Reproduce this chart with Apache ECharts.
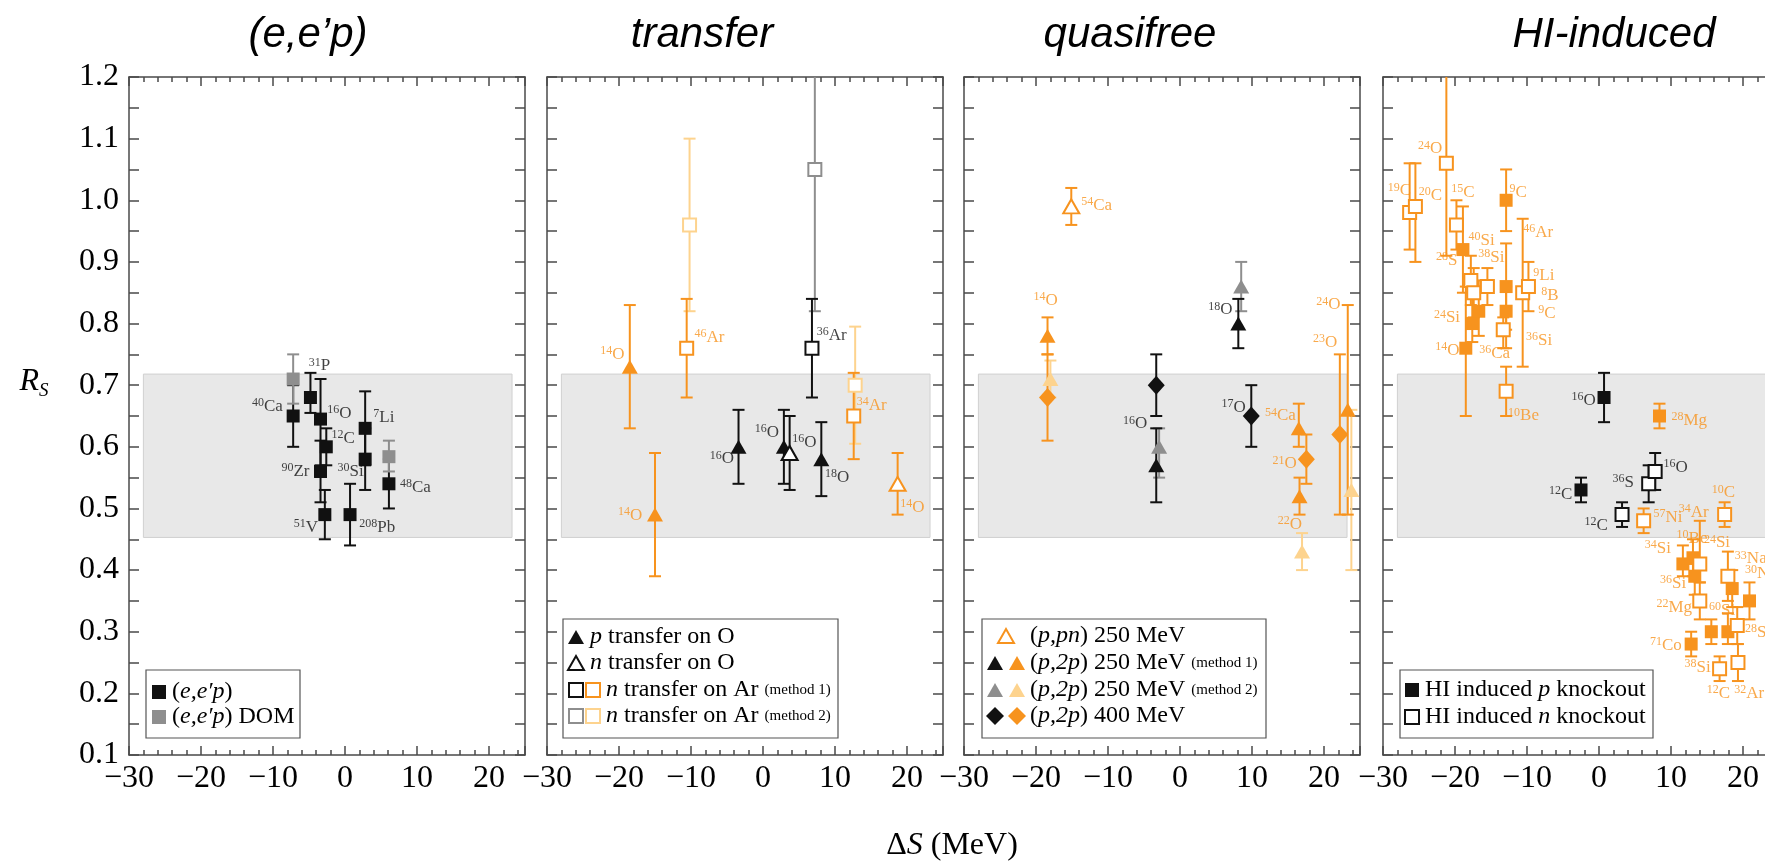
<!DOCTYPE html>
<html>
<head>
<meta charset="utf-8">
<script src="https://cdn.jsdelivr.net/npm/echarts@6.0.0/dist/echarts.min.js"></script>
<style>
html, body { margin: 0; padding: 0; background: #fff; }
#main { width: 1765px; height: 866px; }
</style>
</head>
<body>
<div id="main"></div>
<script>
// every point: [deltaS (MeV), R_S, lower error, upper error]

// (e,e'p)
var eepBlack = [[-7.2, 0.65, 0.60, 0.70], [-4.8, 0.68, 0.655, 0.72], [-3.4, 0.645, 0.57, 0.71],
  [-2.6, 0.60, 0.57, 0.63], [-3.4, 0.56, 0.51, 0.61], [-2.8, 0.49, 0.45, 0.53],
  [0.7, 0.49, 0.44, 0.54], [2.8, 0.63, 0.57, 0.69], [2.8, 0.58, 0.53, 0.63], [6.1, 0.54, 0.50, 0.58]];
var eepDom = [[-7.2, 0.71, 0.67, 0.75], [6.1, 0.584, 0.56, 0.61]];

// transfer
var pTransferBlack = [[-3.4, 0.60, 0.54, 0.66], [2.9, 0.60, 0.54, 0.66], [8.1, 0.58, 0.52, 0.64]];
var pTransferOrange = [[-18.5, 0.73, 0.63, 0.83], [-15.0, 0.49, 0.39, 0.59]];
var nTransferBlack = [[3.7, 0.59, 0.53, 0.65]];
var nTransferOrange = [[18.7, 0.54, 0.49, 0.59]];
var arM1Black = [[6.8, 0.76, 0.68, 0.84]];
var arM1Orange = [[-10.6, 0.76, 0.68, 0.84], [12.6, 0.65, 0.58, 0.72]];
var arM2Gray = [[7.2, 1.05, 0.82, 1.30]];
var arM2Light = [[-10.2, 0.96, 0.82, 1.10], [12.8, 0.70, 0.605, 0.795]];

// quasifree
var ppnOrange = [[-15.1, 0.99, 0.96, 1.02]];
var p2pM1Black = [[-3.3, 0.57, 0.51, 0.63], [8.1, 0.80, 0.76, 0.84]];
var p2pM1Orange = [[-18.4, 0.78, 0.75, 0.81], [16.5, 0.63, 0.60, 0.67], [16.6, 0.52, 0.49, 0.55], [23.3, 0.66, 0.49, 0.83]];
var p2pM2Gray = [[-2.9, 0.60, 0.55, 0.63], [8.5, 0.86, 0.82, 0.90]];
var p2pM2Light = [[-18.0, 0.71, 0.68, 0.74], [16.95, 0.43, 0.40, 0.46], [23.8, 0.53, 0.40, 0.66]];
var p2p400Black = [[-3.3, 0.70, 0.65, 0.75], [9.9, 0.65, 0.60, 0.70]];
var p2p400Orange = [[-18.4, 0.68, 0.61, 0.75], [17.55, 0.58, 0.54, 0.62], [22.2, 0.62, 0.49, 0.75]];

// HI-induced
var hiPBlack = [[-2.5, 0.53, 0.51, 0.55], [0.7, 0.68, 0.64, 0.72]];
var hiNBlack = [[3.2, 0.49, 0.47, 0.51], [6.9, 0.54, 0.51, 0.57], [7.8, 0.56, 0.53, 0.59]];
var hiPOrange = [[-18.9, 0.92, 0.85, 0.99], [-17.6, 0.80, 0.77, 0.85], [-16.7, 0.82, 0.78, 0.87],
  [-18.5, 0.76, 0.65, 0.86], [-12.9, 1.00, 0.95, 1.05], [-12.9, 0.86, 0.79, 0.93], [-12.9, 0.82, 0.76, 0.86],
  [8.4, 0.65, 0.63, 0.67], [11.65, 0.41, 0.39, 0.44], [13.05, 0.42, 0.39, 0.45], [13.3, 0.39, 0.36, 0.41],
  [18.5, 0.37, 0.34, 0.40], [20.9, 0.35, 0.32, 0.38], [15.6, 0.30, 0.28, 0.32], [17.9, 0.30, 0.28, 0.33],
  [12.8, 0.28, 0.26, 0.30]];
var hiNOrange = [[-26.3, 0.98, 0.92, 1.06], [-25.5, 0.99, 0.90, 1.06], [-21.2, 1.06, 0.91, 1.30],
  [-19.8, 0.96, 0.92, 1.00], [-17.8, 0.87, 0.83, 0.91], [-17.4, 0.85, 0.81, 0.89], [-15.5, 0.86, 0.83, 0.89],
  [-13.3, 0.79, 0.76, 0.81], [-10.6, 0.85, 0.73, 0.97], [-9.8, 0.86, 0.82, 0.90], [-12.9, 0.69, 0.65, 0.73],
  [6.2, 0.48, 0.46, 0.50], [17.45, 0.49, 0.47, 0.51], [14.0, 0.41, 0.38, 0.48], [17.9, 0.39, 0.35, 0.43],
  [14.0, 0.35, 0.32, 0.38], [19.2, 0.31, 0.28, 0.34], [16.75, 0.24, 0.22, 0.26], [19.3, 0.25, 0.22, 0.28]];

// nucleus labels: [text, deltaS, R_S] (left edge, middle)
var p1Labels = [['31P', -5.1, 0.732], ['40Ca', -13.0, 0.666], ['16O', -2.55, 0.655], ['7Li', 3.86, 0.649],
  ['12C', -1.95, 0.614], ['90Zr', -8.9, 0.561], ['30Si', -1.1, 0.561], ['48Ca', 7.56, 0.535],
  ['51V', -7.2, 0.47], ['208Pb', 1.9, 0.47]];
var p2LabelsBlack = [['36Ar', 7.38, 0.781], ['16O', -7.48, 0.581], ['16O', -1.2, 0.624], ['16O', 4.0, 0.608], ['18O', 8.54, 0.551]];
var p2LabelsOrange = [['14O', -22.66, 0.751], ['14O', -20.2, 0.489], ['46Ar', -9.57, 0.778], ['34Ar', 12.95, 0.668], ['14O', 18.98, 0.503]];
var p3LabelsBlack = [['18O', 3.86, 0.823], ['16O', -7.98, 0.638], ['17O', 5.71, 0.665]];
var p3LabelsOrange = [['54Ca', -13.8, 0.992], ['14O', -20.4, 0.838], ['24O', 18.85, 0.831], ['23O', 18.4, 0.770],
  ['54Ca', 11.74, 0.651], ['21O', 12.77, 0.573], ['22O', 13.5, 0.475]];
var p4LabelsBlack = [['16O', -3.9, 0.676], ['12C', -7.0, 0.523], ['12C', -2.1, 0.473], ['36S', 1.8, 0.543], ['16O', 8.9, 0.567]];
var p4LabelsOrange = [['19C', -29.4, 1.016], ['20C', -25.1, 1.008], ['24O', -25.2, 1.084], ['15C', -20.6, 1.013],
  ['40Si', -18.2, 0.935], ['28S', -22.7, 0.903], ['38Si', -16.85, 0.908], ['9C', -12.5, 1.013], ['46Ar', -10.6, 0.948],
  ['9Li', -9.2, 0.878], ['8B', -8.1, 0.846], ['9C', -8.5, 0.817], ['36Si', -10.2, 0.773], ['24Si', -23.0, 0.810],
  ['14O', -22.8, 0.757], ['36Ca', -16.7, 0.752], ['10Be', -12.7, 0.651], ['28Mg', 10.0, 0.643], ['57Ni', 7.5, 0.486],
  ['10C', 15.6, 0.526], ['34Ar', 11.0, 0.494], ['10Be', 10.7, 0.452], ['24Si', 14.5, 0.445], ['34Si', 6.3, 0.436],
  ['36Si', 8.4, 0.379], ['33Na', 18.8, 0.419], ['30Na', 20.2, 0.395], ['22Mg', 7.9, 0.340], ['60Si', 15.2, 0.335],
  ['28S', 20.2, 0.299], ['71Co', 7.0, 0.278], ['38Si', 11.8, 0.243], ['12C', 14.9, 0.201], ['32Ar', 18.7, 0.201]];

var panelTitles = ['(e,e\u2019p)', 'transfer', 'quasifree', 'HI-induced'];
var xMin = -30, xMax = 25, yMin = 0.1, yMax = 1.2;
var bandX = [-28, 23.2], bandY = [0.453, 0.718];

// ---- styling / layout
var SERIF = '"Liberation Serif", "DejaVu Serif", serif';
var SANS = '"Liberation Sans", Arial, sans-serif';
var BLACK = '#111111', ORANGE = '#f7931e', LIGHT = '#fdd38e', GRAY = '#8e8e8e';
var gridLeft = [129, 547, 964, 1383];
var titleX = [308, 702, 1130, 1614];
var frame = { color: '#4a4a4a', width: 1.5 };

var sets = [
  [0, eepBlack, 'rect', BLACK, true], [0, eepDom, 'rect', GRAY, true],
  [1, pTransferBlack, 'triangle', BLACK, true], [1, pTransferOrange, 'triangle', ORANGE, true],
  [1, nTransferBlack, 'triangle', BLACK, false], [1, nTransferOrange, 'triangle', ORANGE, false],
  [1, arM2Gray, 'rect', GRAY, false], [1, arM2Light, 'rect', LIGHT, false],
  [1, arM1Black, 'rect', BLACK, false], [1, arM1Orange, 'rect', ORANGE, false],
  [2, ppnOrange, 'triangle', ORANGE, false],
  [2, p2pM2Gray, 'triangle', GRAY, true], [2, p2pM2Light, 'triangle', LIGHT, true],
  [2, p2pM1Black, 'triangle', BLACK, true], [2, p2pM1Orange, 'triangle', ORANGE, true],
  [2, p2p400Black, 'diamond', BLACK, true], [2, p2p400Orange, 'diamond', ORANGE, true],
  [3, hiPOrange, 'rect', ORANGE, true], [3, hiNOrange, 'rect', ORANGE, false],
  [3, hiPBlack, 'rect', BLACK, true], [3, hiNBlack, 'rect', BLACK, false]
];
var symbolSizes = { rect: 13, triangle: [16, 14], diamond: [17, 19] };

function fmtX(v) {
  if (v > 24) return '';
  return v < 0 ? '\u2212' + (-v) : String(v);
}

var grids = [], xAxes = [], yAxes = [], series = [];
gridLeft.forEach(function (left, i) {
  grids.push({ left: left, top: 77, width: 396, height: 678, outerBoundsMode: 'none', containLabel: false });
  ['bottom', 'top'].forEach(function (pos) {
    xAxes.push({ gridIndex: i, type: 'value', min: xMin, max: xMax, interval: 10, position: pos,
      axisLine: { show: true, onZero: false, lineStyle: frame },
      axisTick: { inside: true, length: 9, lineStyle: frame },
      axisLabel: { show: pos === 'bottom', fontFamily: SERIF, fontSize: 32, color: '#000', margin: 8, formatter: fmtX },
      splitLine: { show: false } });
    xAxes.push({ gridIndex: i, type: 'value', min: xMin, max: xMax, interval: 2, position: pos,
      axisLine: { show: false, onZero: false },
      axisTick: { inside: true, length: 5, lineStyle: frame },
      axisLabel: { show: false }, splitLine: { show: false } });
  });
  ['left', 'right'].forEach(function (pos) {
    yAxes.push({ gridIndex: i, type: 'value', min: yMin, max: yMax, interval: 0.1, position: pos,
      axisLine: { show: true, onZero: false, lineStyle: frame },
      axisTick: { inside: true, length: 10, lineStyle: frame },
      minorTick: { show: true, splitNumber: 2, length: 10, lineStyle: frame },
      axisLabel: { show: i === 0 && pos === 'left', fontFamily: SERIF, fontSize: 32, color: '#000', margin: 10,
        formatter: function (v) { return v.toFixed(1); } },
      splitLine: { show: false } });
  });
  // grey band
  series.push({ type: 'custom', xAxisIndex: i * 4, yAxisIndex: i * 2, z: 1, silent: true,
    data: [[bandX[0], bandY[0], bandX[1], bandY[1]]],
    renderItem: function (params, api) {
      var a = api.coord([api.value(0), api.value(1)]);
      var b = api.coord([api.value(2), api.value(3)]);
      return { type: 'rect', shape: { x: a[0], y: b[1], width: b[0] - a[0], height: a[1] - b[1] },
        style: { fill: '#e8e8e8', stroke: '#d0d0d0', lineWidth: 1 } };
    } });
});

function errorBars(color) {
  return function (params, api) {
    var x = api.value(0), lo = api.value(2), hi = api.value(3);
    var a = api.coord([x, Math.max(lo, yMin)]), b = api.coord([x, Math.min(hi, yMax)]);
    var st = { stroke: color, lineWidth: 2 };
    var kids = [{ type: 'line', shape: { x1: a[0], y1: a[1], x2: b[0], y2: b[1] }, style: st }];
    if (lo >= yMin) kids.push({ type: 'line', shape: { x1: a[0] - 6, y1: a[1], x2: a[0] + 6, y2: a[1] }, style: st });
    if (hi <= yMax) kids.push({ type: 'line', shape: { x1: b[0] - 6, y1: b[1], x2: b[0] + 6, y2: b[1] }, style: st });
    return { type: 'group', children: kids };
  };
}

sets.forEach(function (s, k) {
  var i = s[0], pts = s[1], shape = s[2], color = s[3], filled = s[4];
  series.push({ type: 'custom', xAxisIndex: i * 4, yAxisIndex: i * 2, z: 2 + k * 0.01, silent: true,
    data: pts, renderItem: errorBars(color) });
  series.push({ type: 'scatter', xAxisIndex: i * 4, yAxisIndex: i * 2, z: 3 + k * 0.01, silent: true,
    symbol: shape, symbolSize: symbolSizes[shape],
    itemStyle: { color: filled ? color : '#fff', borderColor: color, borderWidth: filled ? 0 : 2, opacity: 1 },
    data: pts.map(function (p) { return [p[0], p[1]]; }) });
});

function iso(t) {
  var m = t.match(/^(\d+)(.*)$/);
  return '{s|' + m[1] + '}{e|' + m[2] + '}';
}
function labelSeries(i, list, color) {
  return { type: 'scatter', xAxisIndex: i * 4, yAxisIndex: i * 2, z: 6, silent: true,
    symbolSize: 1, itemStyle: { color: 'rgba(0,0,0,0)' },
    data: list.map(function (l) { return { name: l[0], value: [l[1], l[2]] }; }),
    label: { show: true, position: 'right', distance: 0,
      formatter: function (p) { return iso(p.name); },
      rich: {
        s: { fontFamily: SERIF, fontSize: 12, lineHeight: 13, verticalAlign: 'top', color: color },
        e: { fontFamily: SERIF, fontSize: 17, lineHeight: 18, padding: [4, 0, 0, 0], verticalAlign: 'bottom', color: color }
      } } };
}
series.push(labelSeries(0, p1Labels, BLACK));
series.push(labelSeries(1, p2LabelsBlack, BLACK));
series.push(labelSeries(1, p2LabelsOrange, ORANGE));
series.push(labelSeries(2, p3LabelsBlack, BLACK));
series.push(labelSeries(2, p3LabelsOrange, ORANGE));
series.push(labelSeries(3, p4LabelsBlack, BLACK));
series.push(labelSeries(3, p4LabelsOrange, ORANGE));

// ---- legends and texts (graphic)
var legRich = {
  n: { fontFamily: SERIF, fontSize: 24, color: '#111' },
  i: { fontFamily: SERIF, fontSize: 24, fontStyle: 'italic', color: '#111' },
  m: { fontFamily: SERIF, fontSize: 15, color: '#111' }
};
function mark(shape, cx, cy, color, filled) {
  var st = { fill: filled ? color : '#fff', stroke: color, lineWidth: filled ? 0 : 2 };
  if (shape === 'rect') return { type: 'rect', shape: { x: cx - 7, y: cy - 7, width: 14, height: 14 }, style: st, z: 20 };
  if (shape === 'triangle') return { type: 'polygon', shape: { points: [[cx, cy - 7], [cx + 8, cy + 7], [cx - 8, cy + 7]] }, style: st, z: 20 };
  return { type: 'polygon', shape: { points: [[cx, cy - 9], [cx + 9, cy], [cx, cy + 9], [cx - 9, cy]] }, style: st, z: 20 };
}
function box(x, y, w, h) {
  return { type: 'rect', shape: { x: x, y: y, width: w, height: h }, style: { fill: '#fff', stroke: '#555', lineWidth: 1.2 }, z: 19 };
}
function ltext(x, y, t) {
  return { type: 'text', z: 20, style: { x: x, y: y, text: t, rich: legRich, verticalAlign: 'middle', align: 'left' } };
}

var graphics = [];
panelTitles.forEach(function (t, i) {
  graphics.push({ type: 'text', z: 20, style: { x: titleX[i], y: 35, text: t, align: 'center', verticalAlign: 'middle',
    font: 'italic 42px ' + SANS, fill: '#000' } });
});
// axis titles
graphics.push({ type: 'text', z: 20, style: { x: 34, y: 383, align: 'center', verticalAlign: 'middle', text: '{r|R}{s|S}',
  rich: { r: { fontFamily: SERIF, fontStyle: 'italic', fontSize: 32, lineHeight: 34, verticalAlign: 'top', color: '#000' },
          s: { fontFamily: SERIF, fontStyle: 'italic', fontSize: 19, lineHeight: 18, verticalAlign: 'bottom', color: '#000' } } } });
graphics.push({ type: 'text', z: 20, style: { x: 952, y: 846, align: 'center', verticalAlign: 'middle', text: '{n|\u0394}{i|S}{n| (MeV)}',
  rich: { n: { fontFamily: SERIF, fontSize: 32, color: '#000' }, i: { fontFamily: SERIF, fontSize: 32, fontStyle: 'italic', color: '#000' } } } });

// panel 1 legend
graphics.push(box(146, 670, 154, 68));
graphics.push(mark('rect', 159, 692, BLACK, true), ltext(172, 692, '{n|(}{i|e,e\u2032p}{n|)}'));
graphics.push(mark('rect', 159, 717, GRAY, true), ltext(172, 717, '{n|(}{i|e,e\u2032p}{n|) DOM}'));
// panel 2 legend
graphics.push(box(563, 619, 275, 119));
graphics.push(mark('triangle', 576, 637, BLACK, true), ltext(590, 637, '{i|p}{n| transfer on O}'));
graphics.push(mark('triangle', 576, 663, BLACK, false), ltext(590, 663, '{i|n}{n| transfer on O}'));
graphics.push(mark('rect', 576, 690, BLACK, false), mark('rect', 593, 690, ORANGE, false),
  ltext(606, 690, '{i|n}{n| transfer on Ar }{m|(method 1)}'));
graphics.push(mark('rect', 576, 716, GRAY, false), mark('rect', 593, 716, LIGHT, false),
  ltext(606, 716, '{i|n}{n| transfer on Ar }{m|(method 2)}'));
// panel 3 legend
graphics.push(box(982, 619, 284, 119));
graphics.push(mark('triangle', 1006, 636, ORANGE, false), ltext(1030, 636, '{n|(}{i|p,pn}{n|) 250 MeV}'));
graphics.push(mark('triangle', 995, 663, BLACK, true), mark('triangle', 1017, 663, ORANGE, true),
  ltext(1030, 663, '{n|(}{i|p,2p}{n|) 250 MeV }{m|(method 1)}'));
graphics.push(mark('triangle', 995, 690, GRAY, true), mark('triangle', 1017, 690, LIGHT, true),
  ltext(1030, 690, '{n|(}{i|p,2p}{n|) 250 MeV }{m|(method 2)}'));
graphics.push(mark('diamond', 995, 716, BLACK, true), mark('diamond', 1017, 716, ORANGE, true),
  ltext(1030, 716, '{n|(}{i|p,2p}{n|) 400 MeV}'));
// panel 4 legend
graphics.push(box(1400, 670, 253, 68));
graphics.push(mark('rect', 1412, 690, BLACK, true), ltext(1425, 690, '{n|HI induced }{i|p}{n| knockout}'));
graphics.push(mark('rect', 1412, 717, BLACK, false), ltext(1425, 717, '{n|HI induced }{i|n}{n| knockout}'));

var chart = echarts.init(document.getElementById('main'));
chart.setOption({
  animation: false,
  backgroundColor: '#fff',
  grid: grids,
  xAxis: xAxes,
  yAxis: yAxes,
  series: series,
  graphic: graphics
});
</script>
</body>
</html>
